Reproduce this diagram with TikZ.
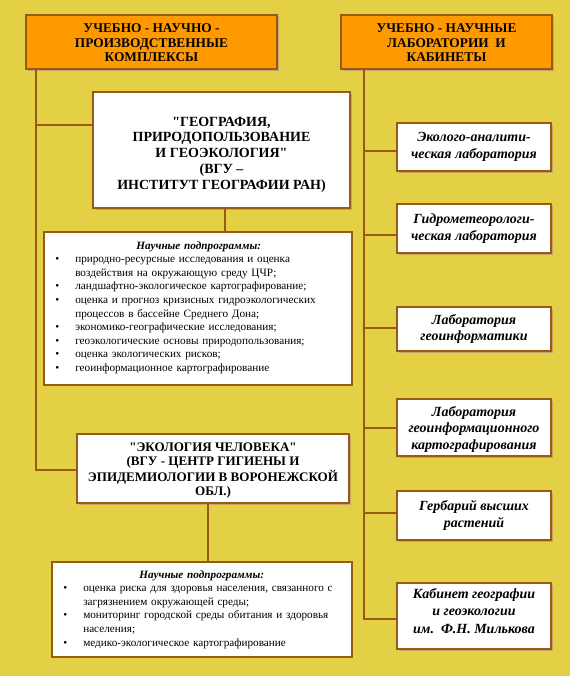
\documentclass[tikz,border=0pt]{standalone}
\usepackage{fontspec}
\setmainfont{Liberation Serif}
\usetikzlibrary{shadows}
\definecolor{bgc}{HTML}{E4D044}
\definecolor{orng}{HTML}{FF9900}
\definecolor{brn}{HTML}{9A5A14}
\definecolor{shd}{HTML}{C9A266}
\font\qgeo="Liberation Serif/B" at 10.5pt
\font\qeco="Liberation Serif/B" at 9.8pt
\tikzset{
  box/.style={draw=brn, line width=2pt, inner sep=0pt, align=center,
    drop shadow={shadow xshift=1.2pt, shadow yshift=-1.2pt, fill=shd, opacity=1}},
  headbox/.style={box, fill=orng, font=\bfseries\fontsize{10}{10.8}\selectfont},
  mainbox/.style={box, fill=white, font=\bfseries\fontsize{10.5}{11.8}\selectfont},
  labbox/.style={box, fill=white, minimum width=154*0.75pt, font=\bfseries\itshape\fontsize{10.5}{12.5}\selectfont},
  subbox/.style={draw=brn, line width=1.2pt, fill=white, inner sep=0pt,
    drop shadow={shadow xshift=1pt, shadow yshift=-1pt, fill=shd, opacity=1}},
  subtext/.style={inner sep=0pt, anchor=north west, align=left, font=\fontsize{8.4}{10.2}\selectfont},
  conn/.style={draw=brn, line width=1.5pt},
}
\newenvironment{blist}{\begin{list}{\makebox[10pt][l]{\textbullet}}{\setlength\leftmargin{15pt}\setlength\labelwidth{10pt}\setlength\labelsep{5pt}\setlength\itemsep{0pt}\setlength\topsep{0pt}\setlength\parsep{0pt}\setlength\partopsep{0pt}}}{\end{list}}
\newcommand{\rtab}[2]{\raisebox{#1}[\height][\depth]{\begin{tabular}{@{}c@{}}#2\end{tabular}}}
\begin{document}
\begin{tikzpicture}[x=0.75pt,y=-0.75pt]
\fill[bgc] (0,0) rectangle (570,676);
\useasboundingbox (0,0) rectangle (570,676);

% headers
\node[headbox, minimum width=251*0.75pt, minimum height=54*0.75pt] (hL) at (151.5,42)
  {\rtab{-1.7pt}{УЧЕБНО - НАУЧНО -\\ПРОИЗВОДСТВЕННЫЕ\\КОМПЛЕКСЫ}};
\node[headbox, minimum width=211*0.75pt, minimum height=54*0.75pt] (hR) at (446.5,42)
  {\rtab{-1.7pt}{УЧЕБНО - НАУЧНЫЕ\\ЛАБОРАТОРИИ\ \ И\\КАБИНЕТЫ}};

% main boxes
\node[mainbox, minimum width=257*0.75pt, minimum height=116*0.75pt] (geo) at (221.5,150)
  {\rtab{-3.4pt}{{\qgeo"}ГЕОГРАФИЯ,\\ПРИРОДОПОЛЬЗОВАНИЕ\\И ГЕОЭКОЛОГИЯ{\qgeo"}\\(ВГУ –\\ИНСТИТУТ ГЕОГРАФИИ РАН)}};
\node[mainbox, minimum width=272*0.75pt, minimum height=69*0.75pt, font=\bfseries\fontsize{9.8}{10.7}\selectfont] (eco) at (213,468.5)
  {\rtab{-1.7pt}{{\qeco"}ЭКОЛОГИЯ ЧЕЛОВЕКА{\qeco"}\\(ВГУ - ЦЕНТР ГИГИЕНЫ И\\ЭПИДЕМИОЛОГИИ В ВОРОНЕЖСКОЙ\\ОБЛ.)}};

% sub boxes
\node[subbox, minimum width=308*0.75pt, minimum height=153*0.75pt] (sub1) at (198,308.5) {};
\node[subtext, text width=287*0.75pt] (sub1t) at (55,241)
  {\centering{\bfseries\itshape Научные подпрограммы:}\par
   \begin{blist}
   \item природно-ресурсные исследования и оценка\newline воздействия на окружающую среду ЦЧР;
   \item ландшафтно-экологическое картографирование;
   \item оценка и прогноз кризисных гидроэкологических\newline процессов в бассейне Среднего Дона;
   \item экономико-географические исследования;
   \item геоэкологические основы природопользования;
   \item оценка экологических рисков;
   \item геоинформационное картографирование
   \end{blist}};

\node[subbox, minimum width=300*0.75pt, minimum height=95*0.75pt] (sub2) at (202,609.5) {};
\node[subtext, text width=277*0.75pt] (sub2t) at (63,570)
  {\centering{\bfseries\itshape Научные подпрограммы:}\par
   \begin{blist}
   \item оценка риска для здоровья населения, связанного с\newline загрязнением окружающей среды;
   \item мониторинг городской среды обитания и здоровья\newline населения;
   \item медико-экологическое картографирование
   \end{blist}};

% right boxes
\node[labbox, minimum height=48*0.75pt] (r1) at (474,147) {Эколого-аналити-\\ческая лаборатория};
\node[labbox, minimum height=49*0.75pt] (r2) at (474,228.5) {Гидрометеорологи-\\ческая лаборатория};
\node[labbox, minimum height=44*0.75pt] (r3) at (474,329) {Лаборатория\\геоинформатики};
\node[labbox, minimum height=57*0.75pt] (r4) at (474,427.5) {\rtab{-1.5pt}{Лаборатория\\геоинформационного\\картографирования}};
\node[labbox, minimum height=49*0.75pt] (r5) at (474,515.5) {Гербарий высших\\растений};
\node[labbox, minimum height=66*0.75pt, font=\bfseries\itshape\fontsize{10.5}{12.8}\selectfont] (r6) at (474,616) {\rtab{2.6pt}{Кабинет географии\\и геоэкологии\\им.\ \ Ф.Н. Милькова}};

% left connectors
\coordinate (L1) at (36,125);
\coordinate (L2) at (36,470);
\draw[conn] (hL.south -| L1) -- (L2) -- (L2 -| eco.west);
\draw[conn] (L1) -- (L1 -| geo.west);
\coordinate (G1) at (225,0);
\draw[conn] (G1 |- geo.south) -- (G1 |- sub1.north);
\coordinate (E1) at (208,0);
\draw[conn] (E1 |- eco.south) -- (E1 |- sub2.north);

% right connectors
\coordinate (R0) at (364,0);
\coordinate (R6) at (364,619);
\draw[conn] (hR.south -| R0) -- (R6) -- (R6 -| r6.west);
\foreach \n/\y in {r1/151, r2/235, r3/328, r4/428, r5/513}{
  \coordinate (c\n) at (364,\y);
  \draw[conn] (c\n) -- (c\n -| \n.west);
}
\end{tikzpicture}
\end{document}
